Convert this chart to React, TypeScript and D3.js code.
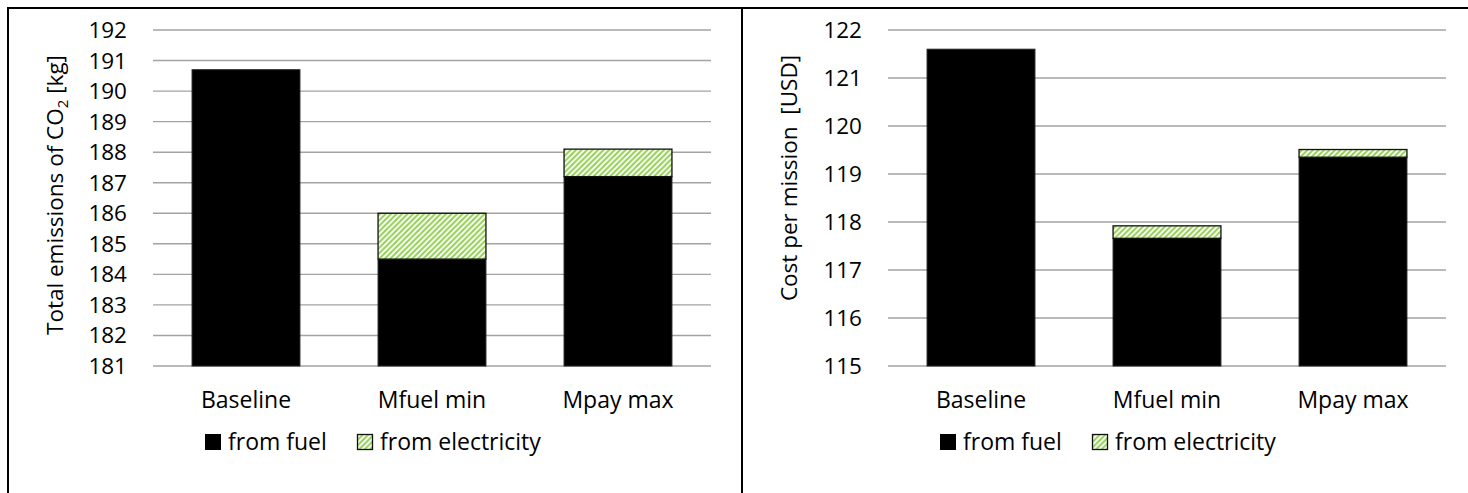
import React from "react";
import * as d3 from "d3";

const categories = ["Baseline", "Mfuel min", "Mpay max"];
const emissionsFuel = [190.7, 184.5, 187.2];
const emissionsElec = [0, 1.5, 0.9];
const emissionsTicks = [181, 182, 183, 184, 185, 186, 187, 188, 189, 190, 191, 192];
const costFuel = [121.6, 117.66, 119.35];
const costElec = [0, 0.26, 0.16];
const costTicks = [115, 116, 117, 118, 119, 120, 121, 122];
const legendLabels = ["from fuel", "from electricity"];

const FONT = "'Open Sans', 'Noto Sans', sans-serif";
const FS = 23;
const GREEN = "#92D050";

type PanelProps = {
  x0: number;
  x1: number;
  fuel: number[];
  elec: number[];
  ticks: number[];
  titleX: number;
  titleY: number;
  title: React.ReactNode;
  legendX: number;
  legendGap: number;
};

function Panel(p: PanelProps) {
  const top = 30;
  const bottom = 366;
  const y = d3
    .scaleLinear()
    .domain([p.ticks[0], p.ticks[p.ticks.length - 1]])
    .range([bottom, top]);
  const x = d3
    .scaleBand<string>()
    .domain(categories)
    .range([p.x0, p.x1])
    .paddingInner(0.42)
    .paddingOuter(0.21);
  const bw = x.bandwidth();
  return (
    <g>
      {p.ticks.map((t) => (
        <g key={t}>
          <line
            x1={p.x0}
            x2={p.x1}
            y1={y(t)}
            y2={y(t)}
            stroke="#a3a3a3"
            strokeWidth={1.4}
          />
          <text
            x={p.x0 - 26}
            y={y(t) + 8}
            textAnchor="end"
            fontFamily={FONT}
            fontSize={FS - 0.5}
            fill="#000"
          >
            {t}
          </text>
        </g>
      ))}
      {categories.map((c, i) => {
        const bx = x(c)!;
        const base = p.ticks[0];
        const f = p.fuel[i];
        const e = p.elec[i];
        return (
          <g key={c}>
            <rect
              x={bx}
              y={y(f)}
              width={bw}
              height={y(base) - y(f)}
              fill="#000"
              stroke="#222"
              strokeWidth={1}
            />
            {e > 0 && (
              <rect
                x={bx}
                y={y(f + e)}
                width={bw}
                height={y(f) - y(f + e)}
                fill="url(#hatch)"
                stroke="#111"
                strokeWidth={1.3}
              />
            )}
            <text
              x={bx + bw / 2}
              y={408}
              textAnchor="middle"
              fontFamily={FONT}
              fontSize={FS}
              fill="#000"
            >
              {c}
            </text>
          </g>
        );
      })}
      <text
        transform={`translate(${p.titleX},${p.titleY}) rotate(-90)`}
        textAnchor="middle"
        fontFamily={FONT}
        fontSize={FS - 0.5}
        fill="#000"
      >
        {p.title}
      </text>
      <g>
        <rect x={p.legendX} y={434} width={16} height={16} fill="#000" />
        <text x={p.legendX + 23} y={450} fontFamily={FONT} fontSize={FS} fill="#000">
          {legendLabels[0]}
        </text>
        <rect
          x={p.legendX + p.legendGap + 0.5}
          y={434.5}
          width={15}
          height={15}
          fill="url(#hatch)"
          stroke="#111"
          strokeWidth={1.3}
        />
        <text
          x={p.legendX + p.legendGap + 23}
          y={450}
          fontFamily={FONT}
          fontSize={FS}
          fill="#000"
        >
          {legendLabels[1]}
        </text>
      </g>
    </g>
  );
}

export default function App() {
  return (
    <svg
      width={1468}
      height={493}
      style={{ position: "absolute", left: 0, top: 0, background: "#fff" }}
    >
      <defs>
        <pattern id="hatch" patternUnits="userSpaceOnUse" width={5.5} height={5.5}>
          <rect width={5.5} height={5.5} fill="#fff" />
          <path
            d="M-1,1 l2,-2 M0,5.5 l5.5,-5.5 M4.5,6.5 l2,-2"
            stroke={GREEN}
            strokeWidth={2}
          />
        </pattern>
      </defs>
      <rect x={0} y={0} width={1468} height={493} fill="#fff" />
      <Panel
        x0={153}
        x1={711}
        fuel={emissionsFuel}
        elec={emissionsElec}
        ticks={emissionsTicks}
        titleX={63}
        titleY={195}
        title={
          <>
            Total emissions of CO
            <tspan fontSize={15} dy={5}>
              2
            </tspan>
            <tspan dy={-5}> [kg]</tspan>
          </>
        }
        legendX={205}
        legendGap={152}
      />
      <Panel
        x0={888}
        x1={1446}
        fuel={costFuel}
        elec={costElec}
        ticks={costTicks}
        titleX={797}
        titleY={178}
        title={"Cost per mission\u00a0 [USD]"}
        legendX={940}
        legendGap={152}
      />
      <line x1={7} x2={1468} y1={8} y2={8} stroke="#000" strokeWidth={2} />
      <line x1={8} x2={8} y1={7} y2={493} stroke="#000" strokeWidth={2} />
      <line x1={742} x2={742} y1={7} y2={493} stroke="#000" strokeWidth={2} />
    </svg>
  );
}
